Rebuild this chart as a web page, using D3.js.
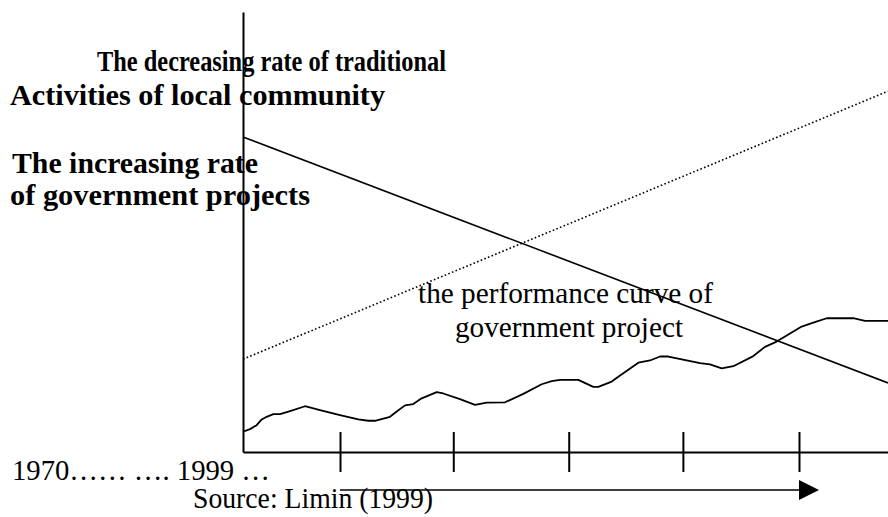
<!DOCTYPE html>
<html>
<head>
<meta charset="utf-8">
<script src="https://cdn.jsdelivr.net/npm/d3@7"></script>
<style>
  html, body { margin: 0; padding: 0; background: #fff; }
  svg { display: block; }
  text { font-family: "Liberation Serif", "Times New Roman", serif; fill: #000; }
</style>
</head>
<body>
<svg id="chart" width="888" height="517"></svg>
<script>
// Time runs along x on an abstract 0–100 scale; rates on y, 0–100.
const traditionalRate = [[0, 71.6], [100, 15.7]];   // decreasing rate of traditional activities
const governmentRate  = [[0, 21.1], [100, 82.0]];   // increasing rate of government projects
const performance = [
  [0, 4.6], [1.09, 5.2], [2.12, 6.1], [2.9, 7.4], [3.67, 8.0], [4.7, 8.6], [5.74, 8.6],
  [7.29, 9.3], [9.61, 10.4], [11.94, 9.5], [15.04, 8.4], [17.88, 7.4], [19.43, 7.1],
  [20.47, 7.1], [22.79, 8.0], [23.83, 9.2], [25.12, 10.6], [26.4, 10.9], [27.7, 12.2],
  [30.03, 13.6], [31.05, 13.3], [33.64, 12.0], [35.97, 10.7], [37.78, 11.2], [40.62, 11.3],
  [43.46, 13.2], [46.31, 15.4], [47.86, 16.1], [49.15, 16.4], [51.98, 16.4], [54.31, 14.8],
  [55.09, 14.8], [57.16, 16.0], [58.19, 17.1], [61.29, 20.3], [63.1, 20.8], [64.65, 21.7],
  [65.94, 21.7], [68.79, 20.8], [70.85, 20.2], [72.4, 19.9], [74.22, 19.0], [76.02, 19.5],
  [79.12, 21.8], [80.93, 23.9], [82.74, 25.1], [86.62, 28.5], [88.42, 29.4], [90.5, 30.4],
  [94.62, 30.4], [96.43, 29.8], [100, 29.8]
];
const tickValues = [15.04, 32.6, 50.5, 68.2, 86.2];
const timeLabel = "1970…… …. 1999 …";
const sourceLabel = "Source: Limin (1999)";
const titleLines = ["The decreasing rate of traditional", "Activities of local community"];
const increasingLines = ["The increasing rate", "of government projects"];
const curveLines = ["the performance curve of", "government project"];

const svg = d3.select("#chart");
const x = d3.scaleLinear().domain([0, 100]).range([243, 888]);
const y = d3.scaleLinear().domain([0, 100]).range([452, 12]);

const line = d3.line().x(d => x(d[0])).y(d => y(d[1]));

// vertical axis
svg.append("g")
  .attr("transform", `translate(${x(0)},0)`)
  .call(d3.axisLeft(y).tickValues([]).tickSizeOuter(0))
  .call(g => g.select(".domain").attr("stroke", "#000").attr("stroke-width", 2));

// horizontal axis, ticks crossing the line
svg.append("g")
  .attr("transform", `translate(0,${y(0)})`)
  .call(d3.axisBottom(x).tickValues(tickValues).tickSizeOuter(0).tickSizeInner(20).tickFormat(""))
  .call(g => g.select(".domain").attr("stroke", "#000").attr("stroke-width", 2))
  .call(g => g.selectAll(".tick line").attr("y1", -20).attr("stroke", "#000").attr("stroke-width", 2));

// decreasing rate
svg.append("path").datum(traditionalRate)
  .attr("d", line).attr("fill", "none").attr("stroke", "#000").attr("stroke-width", 1.6);

// increasing rate (dotted)
svg.append("path").datum(governmentRate)
  .attr("d", line).attr("fill", "none").attr("stroke", "#000").attr("stroke-width", 1.6)
  .attr("stroke-dasharray", "1.6,2.3");

// performance curve
svg.append("path").datum(performance)
  .attr("d", line).attr("fill", "none").attr("stroke", "#000").attr("stroke-width", 1.8)
  .attr("stroke-linejoin", "round");

// time arrow beneath the axis
const ax0 = x(tickValues[0]), ax1 = x(tickValues[tickValues.length - 1]);
const ay = 490;
svg.append("line").attr("x1", ax0).attr("x2", ax1).attr("y1", ay).attr("y2", ay)
  .attr("stroke", "#000").attr("stroke-width", 1.6);
svg.append("path")
  .attr("d", `M${ax1},${ay - 10}L${ax1 + 20},${ay}L${ax1},${ay + 10}Z`)
  .attr("fill", "#000");

// labels: [text, x, baseline, size, width, bold]
const labels = [
  [titleLines[0], 97, 71, 29, 349, true],
  [titleLines[1], 10, 105, 29.5, 375, true],
  [increasingLines[0], 12, 173, 29.5, 246, true],
  [increasingLines[1], 10, 205, 29.5, 300, true],
  [curveLines[0], 418, 303, 29.5, 295, false],
  [curveLines[1], 455, 337, 29.5, 228, false],
  [timeLabel, 12, 480, 29.5, 258, false],
  [sourceLabel, 193, 508, 29, 240, false]
];
svg.selectAll("text.label").data(labels).join("text")
  .attr("class", "label")
  .attr("x", d => d[1]).attr("y", d => d[2])
  .attr("font-size", d => d[3])
  .attr("font-weight", d => d[5] ? "bold" : "normal")
  .attr("textLength", d => d[4])
  .attr("lengthAdjust", "spacingAndGlyphs")
  .text(d => d[0]);
</script>
</body>
</html>
